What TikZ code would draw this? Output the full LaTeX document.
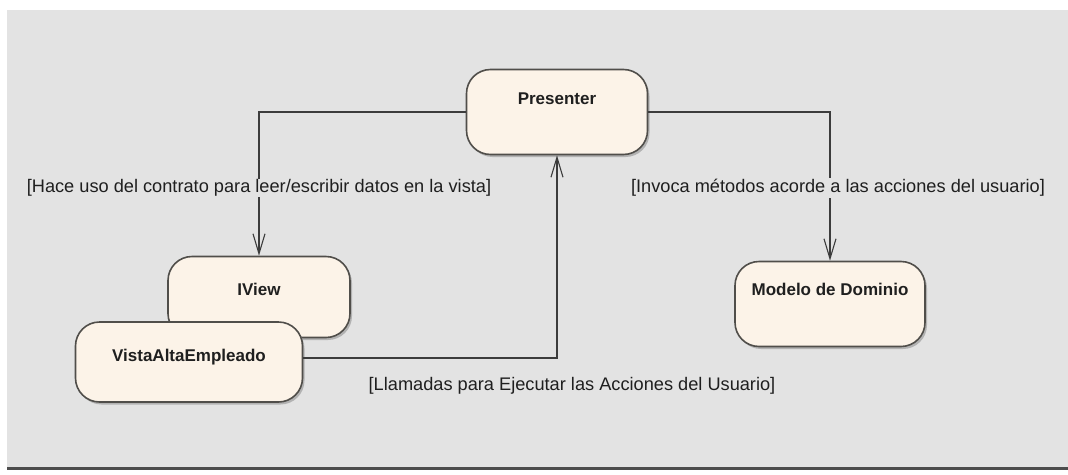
\documentclass[tikz,border=0pt]{standalone}
\usepackage{fontspec}
\setmainfont{Liberation Sans}
\usetikzlibrary{arrows.meta,shadows}
\definecolor{bgc}{RGB}{227,227,227}
\definecolor{cream}{RGB}{252,243,232}
\definecolor{edgec}{RGB}{80,78,74}
\definecolor{linec}{RGB}{60,60,60}
\tikzset{
  statebox/.style={draw=edgec, line width=1.6pt, fill=cream, rounded corners=24pt,
    font=\bfseries\fontsize{17}{19}\selectfont, text=black!88,
    drop shadow={shadow xshift=2pt, shadow yshift=-2.5pt, fill=gray!70, opacity=0.8}},
  conn/.style={draw=linec, line width=1.1pt},
  openarrow/.style={-{Straight Barb[length=20pt,width=12pt,line width=1.1pt]}},
  guard/.style={fill=bgc, inner sep=1pt, text=black!88, font=\fontsize{18.2}{20}\selectfont}
}
\begin{document}
\begin{tikzpicture}[x=1pt,y=1pt]
\useasboundingbox (0,0) rectangle (1068,-474);
\fill[white] (0,0) rectangle (1068,-474);
\fill[bgc] (7,-10) rectangle (1068,-467);
\draw[line width=3pt, draw=black!70] (7,-468) -- (1068,-468);

\node[statebox, minimum width=181pt, minimum height=85pt, text depth=27pt] (P) at (557,-112) {Presenter};
\node[statebox, minimum width=182pt, minimum height=81pt, text depth=15pt] (I) at (259,-297) {IView};
\node[statebox, minimum width=227pt, minimum height=80pt, text depth=14pt] (V) at (189,-362) {VistaAltaEmpleado};
\node[statebox, minimum width=190pt, minimum height=85pt, text depth=29pt] (M) at (830,-304) {Modelo de Dominio};

\draw[conn, openarrow] (P.west) -| (I.north);
\draw[conn, openarrow] (P.east) -| (M.north);
\draw[conn, openarrow] ([yshift=4pt]V.east) -| (P.south);

\node[guard] (g1) at (259,-188) {[Hace uso del contrato para leer/escribir datos en la vista]};
\node[guard] (g2) at (838,-188) {[Invoca métodos acorde a las acciones del usuario]};
\node[guard] (g3) at (572,-386) {[Llamadas para Ejecutar las Acciones del Usuario]};
\end{tikzpicture}
\end{document}
